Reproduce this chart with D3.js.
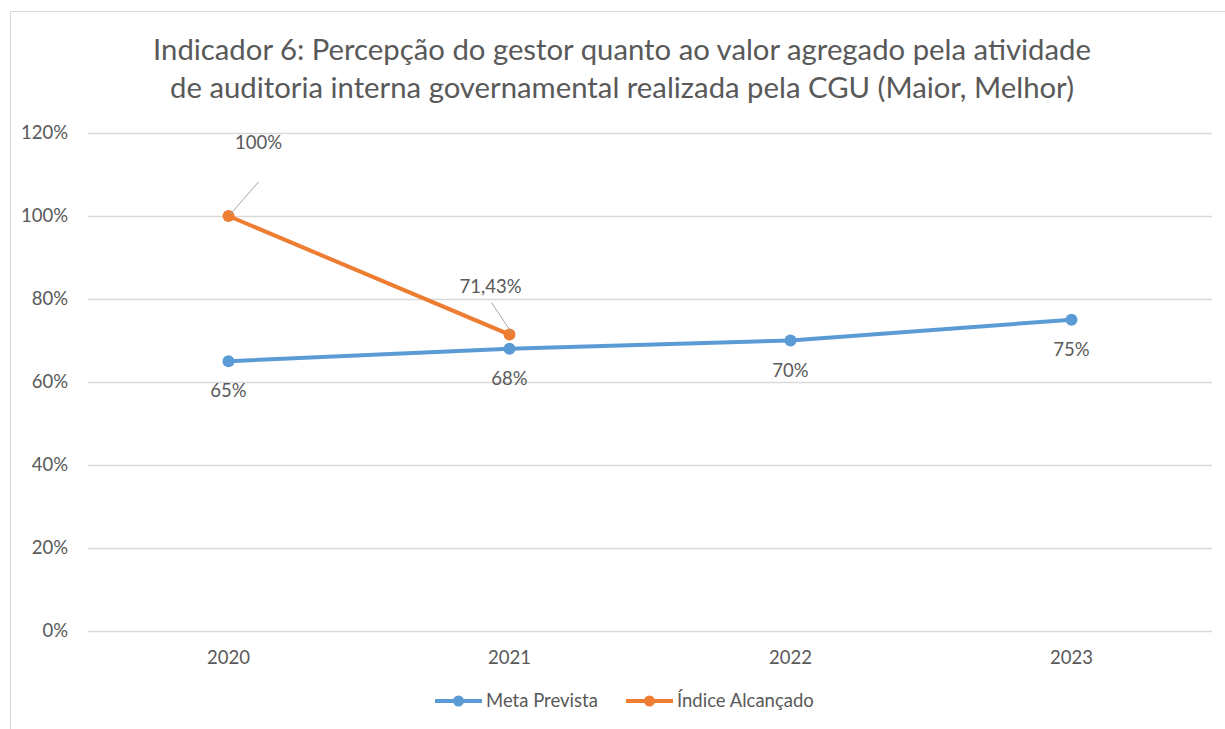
<!DOCTYPE html>
<html>
<head>
<meta charset="utf-8">
<script src="https://cdn.jsdelivr.net/npm/d3@7"></script>
<style>
  body { margin: 0; background: #fff; }
  text { font-family: Lato, "Open Sans", sans-serif; fill: #595959; }
</style>
</head>
<body>
<div id="chart"></div>
<script>
const years = ['2020', '2021', '2022', '2023'];
const metaPrevista = [0.65, 0.68, 0.70, 0.75];
const indiceAlcancado = [1.00, 0.7143];
const metaLabels = ['65%', '68%', '70%', '75%'];
const indiceLabels = ['100%', '71,43%'];
const yTicks = [0, 0.2, 0.4, 0.6, 0.8, 1.0, 1.2];
const titleLines = [
  'Indicador 6: Percepção do gestor quanto ao valor agregado pela atividade',
  'de auditoria interna governamental realizada pela CGU (Maior, Melhor)'
];

const width = 1225;
const height = 729;
const margin = { top: 133, right: 13, bottom: 98, left: 88 };
const fs = '18.5px';

const svg = d3.select('#chart')
  .append('svg')
  .attr('width', width)
  .attr('height', height);

// chart border
svg.append('rect')
  .attr('x', 10.5).attr('y', 11.5)
  .attr('width', 1240).attr('height', 740)
  .attr('fill', 'none')
  .attr('stroke', '#d9d9d9');

const x = d3.scaleBand()
  .domain(years)
  .range([margin.left, width - margin.right]);

const y = d3.scaleLinear()
  .domain([0, 1.2])
  .range([height - margin.bottom, margin.top]);

const cx = d => x(d) + x.bandwidth() / 2;

// title
svg.append('g').selectAll('text')
  .data(titleLines)
  .enter()
  .append('text')
  .attr('x', 622)
  .attr('y', (d, i) => 60 + i * 38)
  .attr('text-anchor', 'middle')
  .style('font-size', '29.3px')
  .text(d => d);

// y grid + labels
const yAxis = d3.axisLeft(y)
  .tickValues(yTicks)
  .tickFormat(d3.format('.0%'))
  .tickSize(-(width - margin.left - margin.right))
  .tickPadding(20);

svg.append('g')
  .attr('transform', `translate(${margin.left},0)`)
  .call(yAxis)
  .call(g => g.select('.domain').remove())
  .call(g => g.selectAll('line').attr('stroke', '#d9d9d9').attr('stroke-width', 1.3))
  .call(g => g.selectAll('text').style('font-size', fs).attr('fill', '#595959'));

// x labels
const xAxis = d3.axisBottom(x).tickSize(0).tickPadding(20);
svg.append('g')
  .attr('transform', `translate(0,${height - margin.bottom})`)
  .call(xAxis)
  .call(g => g.select('.domain').remove())
  .call(g => g.selectAll('text').style('font-size', fs).attr('fill', '#595959'));

const line = d3.line()
  .x((d, i) => cx(years[i]))
  .y(d => y(d));

const blue = '#5b9bd5';
const orange = '#ed7d31';

svg.append('path')
  .datum(metaPrevista)
  .attr('fill', 'none')
  .attr('stroke', blue)
  .attr('stroke-width', 4)
  .attr('stroke-linejoin', 'round')
  .attr('d', line);

svg.append('g').selectAll('circle')
  .data(metaPrevista)
  .enter()
  .append('circle')
  .attr('cx', (d, i) => cx(years[i]))
  .attr('cy', d => y(d))
  .attr('r', 6)
  .attr('fill', blue);

svg.append('path')
  .datum(indiceAlcancado)
  .attr('fill', 'none')
  .attr('stroke', orange)
  .attr('stroke-width', 4)
  .attr('stroke-linejoin', 'round')
  .attr('d', line);

svg.append('g').selectAll('circle')
  .data(indiceAlcancado)
  .enter()
  .append('circle')
  .attr('cx', (d, i) => cx(years[i]))
  .attr('cy', d => y(d))
  .attr('r', 6)
  .attr('fill', orange);

// data labels, meta below the points
svg.append('g').selectAll('text')
  .data(metaPrevista)
  .enter()
  .append('text')
  .attr('x', (d, i) => cx(years[i]))
  .attr('y', d => y(d) + 36)
  .attr('text-anchor', 'middle')
  .style('font-size', fs)
  .text((d, i) => metaLabels[i]);

// indice labels with leader lines
const labelOffsets = [{ dx: 30, dy: -67, lx: 30, ly: -34 }, { dx: -19, dy: -42, lx: -18, ly: -32 }];

svg.append('g').selectAll('line')
  .data(indiceAlcancado)
  .enter()
  .append('line')
  .attr('x1', (d, i) => cx(years[i]) + 2)
  .attr('y1', d => y(d) - 2)
  .attr('x2', (d, i) => cx(years[i]) + labelOffsets[i].lx)
  .attr('y2', (d, i) => y(d) + labelOffsets[i].ly)
  .attr('stroke', '#a6a6a6')
  .attr('stroke-width', 1);

svg.append('g').selectAll('text')
  .data(indiceAlcancado)
  .enter()
  .append('text')
  .attr('x', (d, i) => cx(years[i]) + labelOffsets[i].dx)
  .attr('y', (d, i) => y(d) + labelOffsets[i].dy)
  .attr('text-anchor', 'middle')
  .style('font-size', fs)
  .text((d, i) => indiceLabels[i]);

// legend
const legendItems = [
  { name: 'Meta Prevista', color: blue, x: 435 },
  { name: 'Índice Alcançado', color: orange, x: 626 }
];
const lg = svg.append('g').selectAll('g')
  .data(legendItems)
  .enter()
  .append('g')
  .attr('transform', d => `translate(${d.x},701)`);

lg.append('line')
  .attr('x1', 0).attr('x2', 47)
  .attr('stroke', d => d.color)
  .attr('stroke-width', 4);
lg.append('circle')
  .attr('cx', 23.5).attr('r', 5.5)
  .attr('fill', d => d.color);
lg.append('text')
  .attr('x', 51)
  .attr('dy', '0.35em')
  .style('font-size', fs)
  .text(d => d.name);
</script>
</body>
</html>
